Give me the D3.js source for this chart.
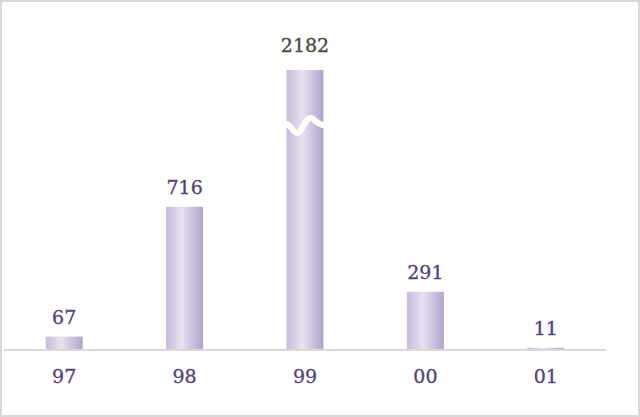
<!DOCTYPE html>
<html>
<head>
<meta charset="utf-8">
<script src="https://cdn.jsdelivr.net/npm/d3@7"></script>
<style>
    body { margin: 0; background: white; }
</style>
</head>
<body>
<div id="canvas"></div>
<script>
"use strict"

/* Chart data */
let years = ["97", "98", "99", "00", "01"];
let counts = [67, 716, 2182, 291, 11];

/* Any bar above this value is cut off and drawn with a break mark */
let capValue = 1400;

let svgWidth = 640;
let svgHeight = 417;

let margin = { top: 70, left: 4, right: 34, baseline: 350 };

let svg;

(function() {
    createSVG();
    drawBars();
})();

function createSVG() {
    svg = d3.select("#canvas")
        .append("svg")
        .attr("width", svgWidth)
        .attr("height", svgHeight);

    // light grey frame around the whole chart
    svg.append("rect")
        .attr("x", 1)
        .attr("y", 1)
        .attr("width", svgWidth - 2)
        .attr("height", svgHeight - 2)
        .attr("fill", "white")
        .attr("stroke", "#d9d9d9")
        .attr("stroke-width", 2);

    // horizontal gradient for the bars (light stripe left of centre)
    let grad = svg.append("defs")
        .append("linearGradient")
        .attr("id", "barFill")
        .attr("x1", "0%").attr("x2", "100%")
        .attr("y1", "0%").attr("y2", "0%");
    grad.append("stop").attr("offset", "0%").attr("stop-color", "#c6bbdb");
    grad.append("stop").attr("offset", "42%").attr("stop-color", "#e7e2f0");
    grad.append("stop").attr("offset", "100%").attr("stop-color", "#b2a2cc");
}

function drawBars() {
    let xScale = d3.scaleBand()
        .domain(years)
        .range([margin.left, svgWidth - margin.right])
        .paddingInner(0.693)
        .paddingOuter(0.3465);

    let yScale = d3.scaleLinear()
        .domain([0, capValue])
        .range([margin.baseline, margin.top])
        .clamp(true);

    let rows = years.map(function(y, i) {
        return { year: y, value: counts[i] };
    });

    // bars
    svg.selectAll("rect.bar")
        .data(rows)
        .join("rect")
        .classed("bar", true)
        .attr("x", function(d) { return xScale(d.year); })
        .attr("y", function(d) { return yScale(d.value); })
        .attr("width", xScale.bandwidth())
        .attr("height", function(d) { return margin.baseline - yScale(d.value); })
        .attr("fill", "url(#barFill)");

    // wavy white break on the bars that go past the cap
    let broken = rows.filter(function(d) { return d.value > capValue; });
    svg.selectAll("path.break")
        .data(broken)
        .join("path")
        .classed("break", true)
        .attr("d", function(d) {
            let x0 = xScale(d.year) - 1;
            let w = xScale.bandwidth() + 2;
            let yb = yScale(capValue) + 57;
            return "M" + x0 + "," + (yb - 3) +
                " C" + (x0 + w * 0.12) + "," + (yb - 4) + " " + (x0 + w * 0.2) + "," + (yb + 6) + " " + (x0 + w * 0.3) + "," + (yb + 6) +
                " C" + (x0 + w * 0.42) + "," + (yb + 6) + " " + (x0 + w * 0.5) + "," + (yb - 9) + " " + (x0 + w * 0.64) + "," + (yb - 9) +
                " C" + (x0 + w * 0.76) + "," + (yb - 9) + " " + (x0 + w * 0.82) + "," + (yb - 1) + " " + (x0 + w) + "," + (yb - 2);
        })
        .attr("fill", "none")
        .attr("stroke", "white")
        .attr("stroke-width", 6)
        .attr("stroke-linejoin", "round");

    // baseline
    let axis = d3.axisBottom(xScale).tickSize(0).tickPadding(20);
    let axisG = svg.append("g")
        .attr("transform", "translate(0," + margin.baseline + ")")
        .call(axis);
    axisG.select(".domain")
        .attr("d", "M" + margin.left + ",0H" + (svgWidth - margin.right))
        .attr("stroke", "#d9d9d9")
        .attr("stroke-width", 2);
    axisG.selectAll(".tick text")
        .attr("dy", 0)
        .attr("y", 33)
        .style("font-family", "'DejaVu Serif', serif")
        .style("font-size", "19px")
        .attr("fill", "#56437c")
        .attr("stroke", "#56437c")
        .attr("stroke-width", 0.35);

    // value labels
    svg.selectAll("text.value")
        .data(rows)
        .join("text")
        .classed("value", true)
        .attr("x", function(d) { return xScale(d.year) + xScale.bandwidth() / 2; })
        .attr("y", function(d) {
            return yScale(d.value) - (d.value > capValue ? 18 : 13);
        })
        .attr("text-anchor", "middle")
        .style("font-family", "'DejaVu Serif', serif")
        .style("font-size", "19px")
        .attr("fill", function(d) { return d.value > capValue ? "#4a4a3e" : "#56437c"; })
        .attr("stroke", function(d) { return d.value > capValue ? "#4a4a3e" : "#56437c"; })
        .attr("stroke-width", 0.35)
        .text(function(d) { return d.value; });
}
</script>
</body>
</html>
